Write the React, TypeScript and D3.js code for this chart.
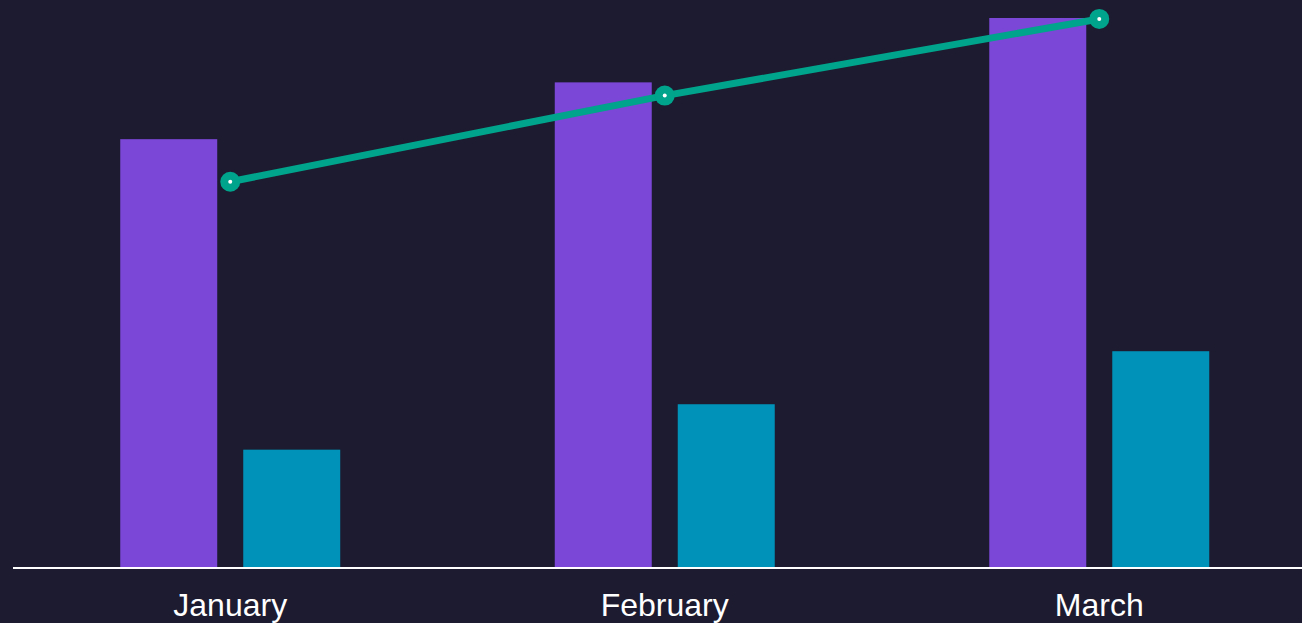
import React from "react";
import * as d3 from "d3";

const categories = ["January", "February", "March"];
const seriesNames = ["A", "B"];
const seriesA = [45.3, 51.3, 58.1];
const seriesB = [12.5, 17.3, 22.9];
const lineValues = [40.8, 49.9, 58.0];

const W = 1302;
const H = 623;
const baseY = 568;

export default function App() {
  const x0 = d3
    .scaleBand<string>()
    .domain(categories)
    .range([13, 1316.5])
    .paddingInner(0.4937)
    .paddingOuter(0.2468);
  const x1 = d3
    .scaleBand<string>()
    .domain(seriesNames)
    .range([0, x0.bandwidth()])
    .paddingInner(0.2114)
    .paddingOuter(0);
  const y = d3.scaleLinear().domain([0, 60]).range([baseY, 0]);
  const colors = ["#7b47d6", "#0092b8"];
  const seriesVals = [seriesA, seriesB];

  const cx = (c: string) => (x0(c) as number) + x0.bandwidth() / 2;
  const line = d3
    .line<number>()
    .x((_, i) => cx(categories[i]))
    .y((d) => y(d));

  return (
    <svg
      width={W}
      height={H}
      style={{ position: "absolute", left: 0, top: 0, background: "#1c1b2f", display: "block" }}
    >
      <rect x={0} y={0} width={W} height={H} fill="#1c1b2f" />
      {categories.map((c, ci) =>
        seriesNames.map((s, si) => {
          const v = seriesVals[si][ci];
          return (
            <rect
              key={c + s}
              x={(x0(c) as number) + (x1(s) as number)}
              y={y(v)}
              width={x1.bandwidth()}
              height={baseY - y(v)}
              fill={colors[si]}
            />
          );
        })
      )}
      <line x1={13} x2={W} y1={baseY} y2={baseY} stroke="#ffffff" strokeWidth={2} />
      <path d={line(lineValues) || ""} fill="none" stroke="#00a38b" strokeWidth={7} />
      {lineValues.map((v, i) => (
        <g key={i}>
          <circle cx={cx(categories[i])} cy={y(v)} r={10} fill="#00a38b" />
          <circle cx={cx(categories[i])} cy={y(v)} r={2} fill="#ffffff" />
        </g>
      ))}
      {categories.map((c) => (
        <text
          key={c}
          x={cx(c)}
          y={616}
          textAnchor="middle"
          fill="#ffffff"
          fontFamily="Liberation Sans, Arial, sans-serif"
          fontSize={32}
        >
          {c}
        </text>
      ))}
    </svg>
  );
}
